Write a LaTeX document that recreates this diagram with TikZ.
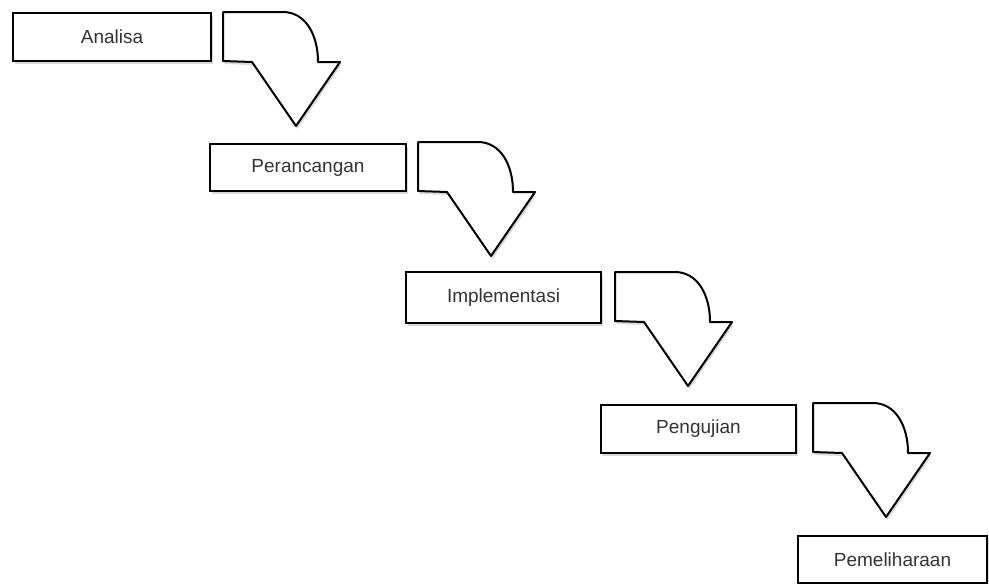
\documentclass[tikz,border=0pt]{standalone}
\usepackage{fontspec}
\setmainfont{Liberation Sans}
\usetikzlibrary{positioning,shadows}
\tikzstyle{tahap}=[rectangle,draw=black,line width=2pt,fill=white,anchor=north west,minimum width=196pt,minimum height=48pt,inner sep=0pt,font=\fontsize{19}{22}\selectfont,text=black!80,drop shadow={opacity=0.3,shadow xshift=1.5pt,shadow yshift=-3pt}]
\tikzstyle{panah}=[draw=black,line width=2pt,fill=white,line join=round,drop shadow={opacity=0.3,shadow xshift=1.5pt,shadow yshift=-3pt}]

\begin{document}
\begin{tikzpicture}[x=1pt,y=-1pt]
                \useasboundingbox (0,0) rectangle (989,584);
                % tahapan
                \draw (12,12) node[tahap,minimum width=198pt] (n0) {Analisa};
                \draw (209,143) node[tahap,minimum height=47pt] (n1) {Perancangan};
                \draw (405,271) node[tahap,minimum width=195pt,minimum height=51pt] (n2) {Implementasi};
                \draw (600,404) node[tahap,minimum width=195pt] (n3) {Pengujian};
                \draw (797,535) node[tahap,minimum width=189pt,minimum height=47pt] (n4) {Pemeliharaan};
                % panah lengkung
                \foreach \x/\y in {223/12, 418/142, 615/272, 813/403}
                    \draw[panah,shift={(\x,\y)}] (0,0) -- (60,0)
                        .. controls (82,0) and (95,22) .. (95,50)
                        -- (117,50) -- (73,114) -- (29,50) -- (0,49) -- cycle;
\end{tikzpicture}
\end{document}
